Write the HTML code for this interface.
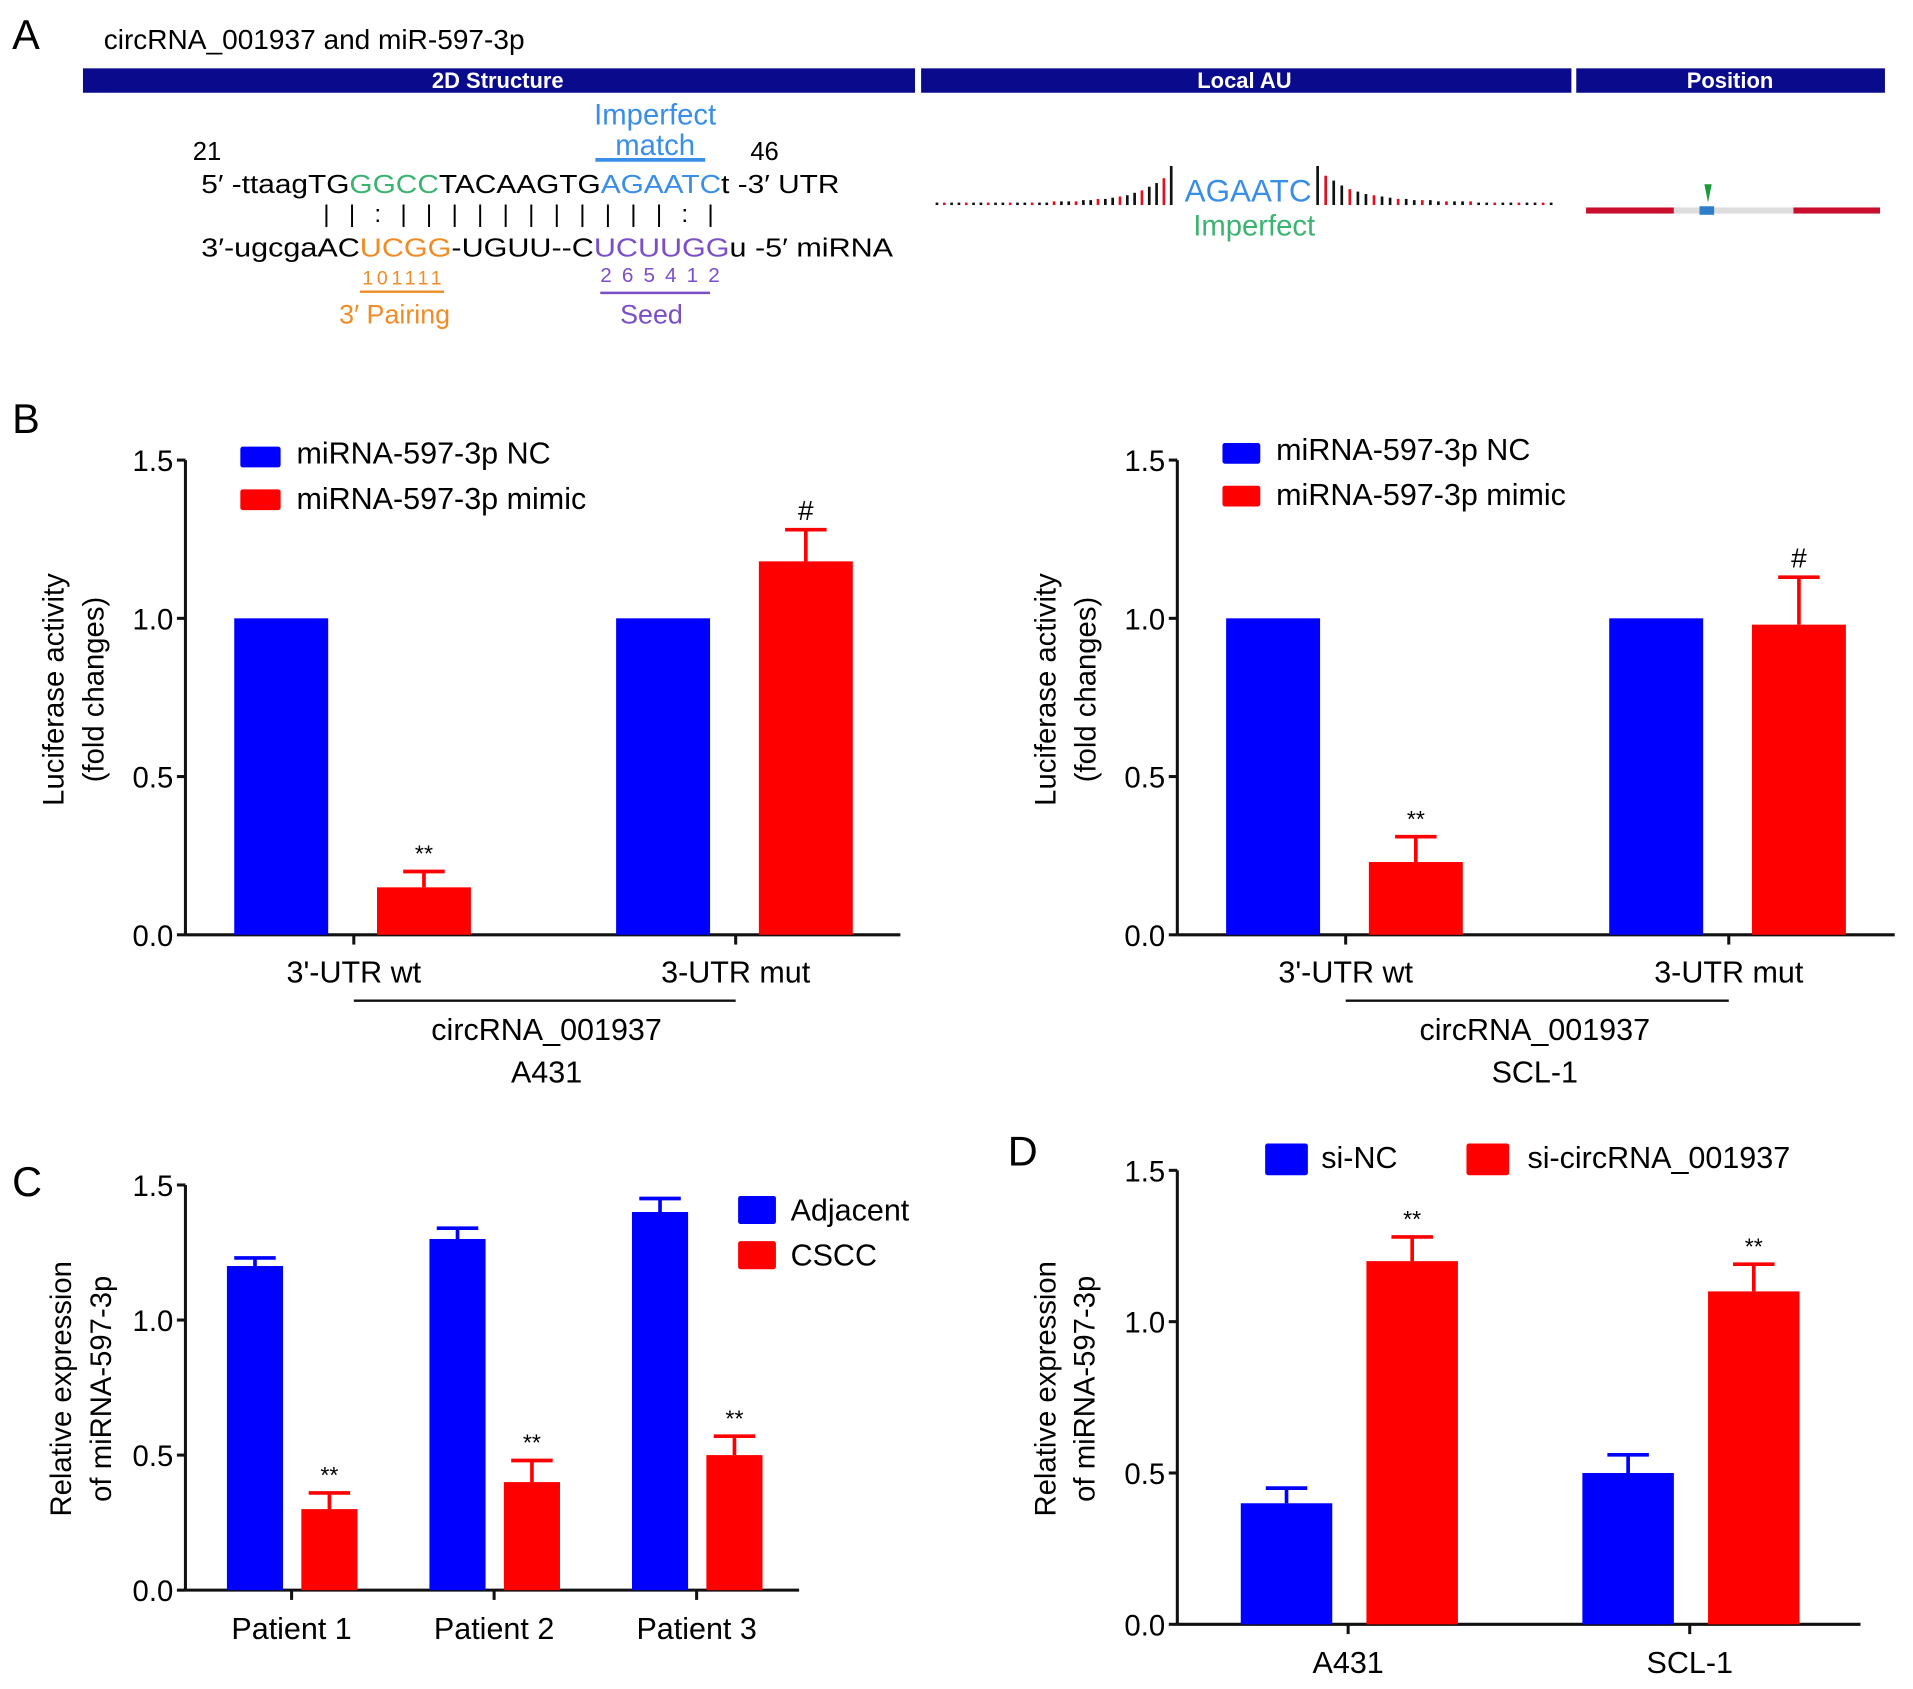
<!DOCTYPE html>
<html><head><meta charset="utf-8">
<style>
html,body{margin:0;padding:0;background:#fff;}
svg{display:block;font-family:"Liberation Sans",Arial,sans-serif;}
</style></head>
<body>
<svg id="fig" width="1913" height="1689" viewBox="0 0 1568 1384" preserveAspectRatio="none" xmlns="http://www.w3.org/2000/svg">
<g>
<text x="10" y="40" font-size="34">A</text>
<text x="85" y="40" font-size="23">circRNA_001937 and miR-597-3p</text>
<rect x="68" y="56" width="682" height="20" fill="#0a0a8c"/>
<rect x="755" y="56" width="533" height="20" fill="#0a0a8c"/>
<rect x="1292" y="56" width="253" height="20" fill="#0a0a8c"/>
<text x="408" y="72" font-size="18" font-weight="bold" fill="#fff" text-anchor="middle">2D Structure</text>
<text x="1020" y="72" font-size="18" font-weight="bold" fill="#fff" text-anchor="middle">Local AU</text>
<text x="1418" y="72" font-size="18" font-weight="bold" fill="#fff" text-anchor="middle">Position</text>

<text x="537" y="102" font-size="24" fill="#3a8ee6" text-anchor="middle">Imperfect</text>
<text x="537" y="127" font-size="24" fill="#3a8ee6" text-anchor="middle">match</text>
<line x1="488" y1="131" x2="578" y2="131" stroke="#3a8ee6" stroke-width="3"/>
<text x="158" y="131" font-size="21">21</text>
<text x="615" y="131" font-size="21">46</text>
<text x="165" y="158" font-size="21" textLength="523" lengthAdjust="spacingAndGlyphs">5′  -ttaagTG<tspan fill="#3cb371">GGCC</tspan>TACAAGTG<tspan fill="#3a8ee6">AGAATC</tspan>t -3′ UTR</text>
<text x="265" y="182" font-size="20" textLength="320" lengthAdjust="spacing">| | : | | |  | | | |    | | | | : |</text>
<text x="165" y="210" font-size="21" textLength="567" lengthAdjust="spacingAndGlyphs">3′-ugcgaAC<tspan fill="#f08c28">UCGG</tspan>-UGUU--C<tspan fill="#7a4fc8">UCUUGG</tspan>u -5′  miRNA</text>
<text x="297" y="233" font-size="16" fill="#f08c28" textLength="65">101111</text>
<line x1="295" y1="239" x2="364" y2="239" stroke="#f08c28" stroke-width="2"/>
<text x="278" y="265" font-size="22" fill="#f08c28">3′ Pairing</text>
<text x="492" y="231" font-size="17" fill="#7a4fc8" textLength="98">2 6 5 4 1 2</text>
<line x1="492" y1="240" x2="582" y2="240" stroke="#7a4fc8" stroke-width="2"/>
<text x="534" y="265" font-size="22" fill="#7a4fc8" text-anchor="middle">Seed</text>

<g id="localau"></g>
<text x="1023" y="165" font-size="26" fill="#3a8ee6" text-anchor="middle" textLength="104" lengthAdjust="spacingAndGlyphs">AGAATC</text>
<text x="1028" y="193" font-size="24" fill="#3cb371" text-anchor="middle">Imperfect</text>

<rect x="1300" y="170" width="72" height="5" fill="#c8102e"/>
<rect x="1372" y="170" width="98" height="5" fill="#ddd"/>
<rect x="1470" y="170" width="71" height="5" fill="#c8102e"/>
<rect x="1393" y="169" width="12" height="7" fill="#2e7fc8"/>
<path d="M1397 151 L1403 151 L1400 166 Z" fill="#1a9a3a"/>
</g>

<g id="charts"></g>
</svg>
<script>
// ---- Panel B left (A431)
const bCats = ["3'-UTR wt", "3-UTR mut"];
const bA431NC = [1.0, 1.0];
const bA431Mimic = [0.15, 1.18];
const bA431MimicErr = [0.05, 0.10];
const bA431Sig = ["**", "#"];
// ---- Panel B right (SCL-1)
const bSCLNC = [1.0, 1.0];
const bSCLMimic = [0.23, 0.98];
const bSCLMimicErr = [0.08, 0.15];
const bSCLSig = ["**", "#"];
const bTicks = ["0.0", "0.5", "1.0", "1.5"];
// ---- Panel C
const cCats = ["Patient 1", "Patient 2", "Patient 3"];
const cAdjacent = [1.2, 1.3, 1.4];
const cAdjacentErr = [0.03, 0.04, 0.05];
const cCSCC = [0.3, 0.4, 0.5];
const cCSCCErr = [0.06, 0.08, 0.07];
const cTicks = ["0.0", "0.5", "1.0", "1.5"];
// ---- Panel D
const dCats = ["A431", "SCL-1"];
const dSiNC = [0.4, 0.5];
const dSiNCErr = [0.05, 0.06];
const dSiCirc = [1.2, 1.1];
const dSiCircErr = [0.08, 0.09];
const dTicks = ["0.0", "0.5", "1.0", "1.5"];
// ---- Local AU decorative bar heights
const auLeft = [2,2,2,2,2,2,2,2,2,2,2,2,2,2,2,2,3,3,3,3,4,4,5,5,6,7,8,10,12,15,18,22,32];
const auRight = [32,24,20,16,13,11,9,8,7,6,5,5,4,4,4,3,3,3,3,3,2,2,2,2,2,2,2,2,2,2];

const NS = "http://www.w3.org/2000/svg";
const root = document.getElementById("charts");
function mk(tag, attrs, parent) {
  const e = document.createElementNS(NS, tag);
  for (const k in attrs) e.setAttribute(k, attrs[k]);
  (parent || root).appendChild(e);
  return e;
}
function txt(s, attrs, parent) { const e = mk("text", attrs, parent); e.textContent = s; return e; }

(function(){
  const g = document.getElementById("localau");
  const base = 168;
  auLeft.forEach((h, i) => {
    const x = 768 + i * 6;
    const l = mk("line", {x1:x, y1:base, x2:x, y2:base - h, stroke: i % 3 === 1 ? "#e01020" : "#111", "stroke-width": 2.2}, g);
    
    
  });
  auRight.forEach((h, i) => {
    const x = 1080 + i * 6.6;
    const l = mk("line", {x1:x, y1:base, x2:x, y2:base - h, stroke: i % 3 === 1 ? "#e01020" : "#111", "stroke-width": 2.2}, g);
    
    
  });
})();

function chart(o) {
  const g = mk("g", {});
  
  
  const y = v => o.y0 - (v / 1.5) * (o.y0 - o.y15);
  const ax = mk("line", {x1:o.ax, y1:o.y15, x2:o.ax, y2:o.y0, stroke:"#111", "stroke-width":2.5}, g);
  
  
  const xx = mk("line", {x1:o.ax, y1:o.y0, x2:o.axEnd, y2:o.y0, stroke:"#111", "stroke-width":2.5}, g);
  
  
  o.ticks.forEach(t => {
    const v = parseFloat(t);
    const tk = mk("line", {x1:o.ax - 7, y1:y(v), x2:o.ax, y2:y(v), stroke:"#111", "stroke-width":2.5}, g);
    
    
    const tl = txt(t, {x:o.ax - 10, y:y(v) + 9, "font-size":24, "text-anchor":"end"}, g);
    
    
  });
  o.cats.forEach((c, i) => {
    const cx = o.catX[i];
    const tk = mk("line", {x1:cx, y1:o.y0, x2:cx, y2:o.y0 + 8, stroke:"#111", "stroke-width":2.5}, g);
    
    
    const cl = txt(c, {x:cx, y:o.y0 + o.catDy, "font-size":25, "text-anchor":"middle"}, g);
    
    
    o.series.forEach((s, j) => {
      const bx = cx + s.off;
      const v = s.vals[i];
      if (s.err) {
        const top = y(v + s.err[i]);
        const el = mk("line", {x1:bx + o.bw/2, y1:y(v), x2:bx + o.bw/2, y2:top, stroke:s.color, "stroke-width":3}, g);
        
        
        const cap = mk("line", {x1:bx + o.bw/2 - 17, y1:top, x2:bx + o.bw/2 + 17, y2:top, stroke:s.color, "stroke-width":3}, g);
        
        
        if (s.sig) {
          const st = txt(s.sig[i], {x:bx + o.bw/2, y:top - 8, "font-size":s.sig[i] === "#" ? 23 : 19, "text-anchor":"middle"}, g);
          
          
        }
      }
      const r = mk("rect", {x:bx, y:y(v), width:o.bw, height:o.y0 - y(v), fill:s.color}, g);
      
      
    });
  });
  o.legend.forEach(l => {
    const lr = mk("rect", {x:l.x, y:l.y, width:l.w, height:l.h, fill:l.color, rx:2}, g);
    
    
    const lt = txt(l.text, {x:l.tx, y:l.ty, "font-size":25}, g);
    
    
  });
  o.ytitle.forEach((t, i) => {
    const yt = txt(t, {x:0, y:0, "font-size":24, "text-anchor":"middle", transform:"translate(" + (o.ytX[i]) + "," + o.ytY + ") rotate(-90)"}, g);
    
    
  });
  const pl = txt(o.panel, {x:o.px, y:o.py, "font-size":34}, g);
  
  
  if (o.group) {
    const gl = mk("line", {x1:o.group.x1, y1:820, x2:o.group.x2, y2:820, stroke:"#111", "stroke-width":2}, g);
    
    
    const g1 = txt("circRNA_001937", {x:o.group.cx, y:852, "font-size":25, "text-anchor":"middle"}, g);
    
    
    const g2 = txt(o.group.cell, {x:o.group.cx, y:887, "font-size":25, "text-anchor":"middle"}, g);
    
    
  }
}

const BLUE = "#0000ff", RED = "#ff0000";
chart({name:"chart-b-a431", panel:"B", px:10, py:355, ax:152, axEnd:738, y0:766, y15:377, ticks:bTicks,
  cats:bCats, catX:[290, 603], catDy:39, bw:77,
  series:[{key:"nc", vals:bA431NC, color:BLUE, off:-98},
          {key:"mimic", vals:bA431Mimic, err:bA431MimicErr, sig:bA431Sig, color:RED, off:19}],
  legend:[{x:197,y:366,w:33,h:17,color:BLUE,text:"miRNA-597-3p NC",tx:243,ty:380},
          {x:197,y:401,w:33,h:17,color:RED,text:"miRNA-597-3p mimic",tx:243,ty:417}],
  ytitle:["Luciferase activity","(fold changes)"], ytX:[52,85], ytY:565,
  group:{x1:290,x2:603,cx:448,cell:"A431"}});
chart({name:"chart-b-scl1", panel:"", px:0, py:0, ax:965, axEnd:1553, y0:766, y15:377, ticks:bTicks,
  cats:bCats, catX:[1103, 1417], catDy:39, bw:77,
  series:[{key:"nc", vals:bSCLNC, color:BLUE, off:-98},
          {key:"mimic", vals:bSCLMimic, err:bSCLMimicErr, sig:bSCLSig, color:RED, off:19}],
  legend:[{x:1002,y:363,w:31,h:17,color:BLUE,text:"miRNA-597-3p NC",tx:1046,ty:377},
          {x:1002,y:398,w:31,h:17,color:RED,text:"miRNA-597-3p mimic",tx:1046,ty:414}],
  ytitle:["Luciferase activity","(fold changes)"], ytX:[865,898], ytY:565,
  group:{x1:1103,x2:1417,cx:1258,cell:"SCL-1"}});
chart({name:"chart-c", panel:"C", px:10, py:980, ax:152, axEnd:655, y0:1303, y15:971, ticks:cTicks,
  cats:cCats, catX:[239, 405, 571], catDy:40, bw:46,
  series:[{key:"adjacent", vals:cAdjacent, err:cAdjacentErr, color:BLUE, off:-53},
          {key:"cscc", vals:cCSCC, err:cCSCCErr, sig:["**","**","**"], color:RED, off:8}],
  legend:[{x:605,y:980,w:31,h:23,color:BLUE,text:"Adjacent",tx:648,ty:1000},
          {x:605,y:1017,w:31,h:23,color:RED,text:"CSCC",tx:648,ty:1037}],
  ytitle:["Relative expression","of miRNA-597-3p"], ytX:[58,91], ytY:1138});
chart({name:"chart-d", panel:"D", px:826, py:955, ax:965, axEnd:1525, y0:1331, y15:959, ticks:dTicks,
  cats:dCats, catX:[1105, 1385], catDy:40, bw:75,
  series:[{key:"si-nc", vals:dSiNC, err:dSiNCErr, color:BLUE, off:-88},
          {key:"si-circrna", vals:dSiCirc, err:dSiCircErr, sig:["**","**"], color:RED, off:15}],
  legend:[{x:1037,y:937,w:35,h:26,color:BLUE,text:"si-NC",tx:1083,ty:957},
          {x:1202,y:937,w:35,h:26,color:RED,text:"si-circRNA_001937",tx:1252,ty:957}],
  ytitle:["Relative expression","of miRNA-597-3p"], ytX:[865,897], ytY:1138});
</script>
</body></html>
